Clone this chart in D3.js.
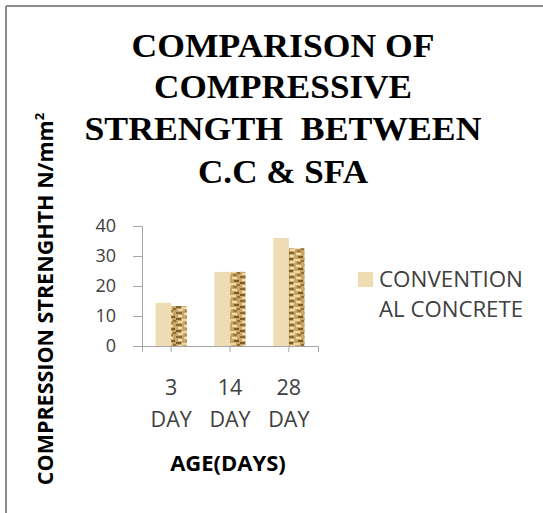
<!DOCTYPE html>
<html><head><meta charset="utf-8">
<script src="https://cdn.jsdelivr.net/npm/d3@7"></script>
<style>html,body{margin:0;padding:0;background:#fff;}</style>
</head><body>
<svg id="c" width="543" height="513"></svg>
<script>
const categories = ["3 DAY", "14 DAY", "28 DAY"];
const conventional = [14.4, 24.7, 36.0];
const sfa = [13.3, 24.7, 32.6];
const yTicks = [0, 10, 20, 30, 40];
const titleLines = ["COMPARISON OF", "COMPRESSIVE", "STRENGTH  BETWEEN", "C.C & SFA"];
const legendLines = ["CONVENTION", "AL CONCRETE"];

const svg = d3.select("#c");
// frame
svg.append("line").attr("x1",6).attr("x2",543).attr("y1",6).attr("y2",6).attr("stroke","#8c8c8c").attr("stroke-width",2);
svg.append("line").attr("x1",6).attr("x2",6).attr("y1",6).attr("y2",513).attr("stroke","#8c8c8c").attr("stroke-width",2);

// texture pattern
const defs = svg.append("defs");
const pat = defs.append("pattern").attr("id","tex").attr("patternUnits","userSpaceOnUse").attr("width",16).attr("height",12);
pat.append("rect").attr("width",16).attr("height",12).attr("fill","#c9a566");
const blocks = [[0,0,6,2,"#8a6a32"],[8,1,5,2,"#f1dfae"],[2,3,4,2,"#f3e4b8"],[10,4,5,2,"#7c5c28"],[0,6,5,2,"#7c5c28"],[6,7,6,2,"#efd9a4"],[13,8,3,2,"#8f6e35"],[2,9,5,2,"#eddaa8"],[9,10,4,2,"#9b7a3e"]];
blocks.forEach(b=>pat.append("rect").attr("x",b[0]).attr("y",b[1]).attr("width",b[2]).attr("height",b[3]).attr("fill",b[4]));

const x0 = d3.scaleBand().domain(categories).range([142,318]).paddingInner(0.47).paddingOuter(0.23);
const y = d3.scaleLinear().domain([0,40]).range([346,226]);

// bars
const g = svg.append("g");
categories.forEach((c,i)=>{
  const bw = x0.bandwidth()/2;
  g.append("rect").attr("x",x0(c)).attr("y",y(conventional[i])).attr("width",bw).attr("height",y(0)-y(conventional[i])).attr("fill","#eedcb5");
  g.append("rect").attr("x",x0(c)+bw).attr("y",y(sfa[i])).attr("width",bw).attr("height",y(0)-y(sfa[i])).attr("fill","url(#tex)");
});

// y axis
const yAxis = svg.append("g").attr("transform","translate(142,0)")
  .call(d3.axisLeft(y).tickValues(yTicks).tickSize(9).tickPadding(17).tickFormat(d3.format("d")));
yAxis.select(".domain").attr("stroke","#a6a6a6");
yAxis.selectAll(".tick line").attr("stroke","#a6a6a6");
yAxis.selectAll("text").attr("font-family","'Open Sans', sans-serif").attr("font-size",18).attr("fill","#404040");

// x axis
const xAxis = svg.append("g").attr("transform","translate(0,346)")
  .call(d3.axisBottom(x0).tickSize(6).tickSizeOuter(6).tickFormat(""));
xAxis.select(".domain").attr("stroke","#a6a6a6");
xAxis.selectAll(".tick line").attr("stroke","#a6a6a6");
xAxis.selectAll(".tick").each(function(d){
  const parts = d.split(" ");
  const t = d3.select(this).append("text").attr("text-anchor","middle")
    .attr("font-family","'Open Sans', sans-serif").attr("font-size",21.5).attr("fill","#404040");
  t.append("tspan").attr("x",0).attr("y",49).text(parts[0]);
  t.append("tspan").attr("x",0).attr("y",81).text(parts[1]);
});

// x title
svg.append("text").attr("x",228).attr("y",471).attr("text-anchor","middle")
  .attr("font-family","'Open Sans', sans-serif").attr("font-weight","bold").attr("font-size",22).attr("fill","#000")
  .text("AGE(DAYS)");

// y title
const yt = svg.append("text").attr("transform","translate(53,299) rotate(-90)").attr("text-anchor","middle")
  .attr("font-family","'Open Sans', sans-serif").attr("font-weight","bold").attr("font-size",21.5).attr("fill","#000");
yt.append("tspan").text("COMPRESSION STRENGHTH N/mm");
yt.append("tspan").attr("font-size",13).attr("dy",-9).text("2");

// title
const titleWidths = [303, 258, 397, 170];
const titleBase = [56.5, 98, 140, 183];
titleLines.forEach((l,i)=>{
  svg.append("text").attr("x",283).attr("y",titleBase[i]).attr("text-anchor","middle")
    .attr("font-family","'Liberation Serif', 'Times New Roman', serif").attr("font-weight","bold").attr("font-size",33).attr("fill","#000")
    .attr("textLength",titleWidths[i]).attr("lengthAdjust","spacingAndGlyphs")
    .style("white-space","pre").text(l);
});

// legend
svg.append("rect").attr("x",358).attr("y",272).attr("width",15).attr("height",15).attr("fill","#eedcb5");
legendLines.forEach((l,i)=>svg.append("text").attr("x",379).attr("y",287+i*30)
  .attr("font-family","'Open Sans', sans-serif").attr("font-size",21.5).attr("fill","#404040")
  .attr("textLength",144).attr("lengthAdjust","spacingAndGlyphs").text(l));
</script>
</body></html>
